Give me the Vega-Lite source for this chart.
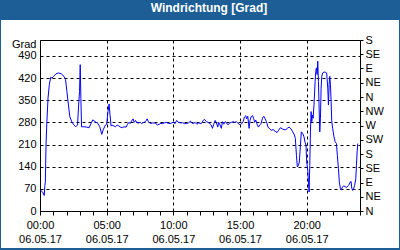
{
  "$schema": "https://vega.github.io/schema/vega-lite/v6.json",
  "autosize": {"type": "none"},
  "width": 398,
  "height": 228,
  "padding": {"left": 1, "right": 1, "top": 20, "bottom": 2},
  "background": "#1c5e95",
  "title": {
    "text": "Windrichtung [Grad]",
    "color": "white",
    "font": "Liberation Sans",
    "fontSize": 12,
    "fontWeight": "bold",
    "anchor": "middle",
    "frame": "group",
    "baseline": "alphabetic",
    "offset": 7,
    "dx": 9,
    "dy": 11
  },
  "config": {
    "view": {"stroke": null, "fill": "white"},
    "axis": {
      "labelFont": "Liberation Sans",
      "labelFontSize": 11,
      "labelColor": "black",
      "titleFont": "Liberation Sans",
      "titleFontSize": 11,
      "titleFontWeight": "normal",
      "titleColor": "black",
      "domainColor": "black",
      "tickColor": "black",
      "gridColor": "black",
      "gridDash": [3, 3],
      "gridWidth": 1
    }
  },
  "data": {
    "values": [
      {"t": "2017-05-06T00:03", "v": 65},
      {"t": "2017-05-06T00:12", "v": 60},
      {"t": "2017-05-06T00:19", "v": 49},
      {"t": "2017-05-06T00:22", "v": 81},
      {"t": "2017-05-06T00:24", "v": 91},
      {"t": "2017-05-06T00:27", "v": 208},
      {"t": "2017-05-06T00:31", "v": 282},
      {"t": "2017-05-06T00:36", "v": 356},
      {"t": "2017-05-06T00:42", "v": 399},
      {"t": "2017-05-06T00:48", "v": 422},
      {"t": "2017-05-06T00:54", "v": 420},
      {"t": "2017-05-06T01:01", "v": 425},
      {"t": "2017-05-06T01:12", "v": 433},
      {"t": "2017-05-06T01:24", "v": 436},
      {"t": "2017-05-06T01:36", "v": 433},
      {"t": "2017-05-06T01:48", "v": 425},
      {"t": "2017-05-06T01:55", "v": 415},
      {"t": "2017-05-06T02:01", "v": 378},
      {"t": "2017-05-06T02:08", "v": 335},
      {"t": "2017-05-06T02:14", "v": 298},
      {"t": "2017-05-06T02:23", "v": 282},
      {"t": "2017-05-06T02:32", "v": 272},
      {"t": "2017-05-06T02:41", "v": 266},
      {"t": "2017-05-06T02:49", "v": 272},
      {"t": "2017-05-06T02:53", "v": 325},
      {"t": "2017-05-06T02:58", "v": 378},
      {"t": "2017-05-06T03:01", "v": 462},
      {"t": "2017-05-06T03:04", "v": 356},
      {"t": "2017-05-06T03:07", "v": 266},
      {"t": "2017-05-06T03:17", "v": 266},
      {"t": "2017-05-06T03:29", "v": 265},
      {"t": "2017-05-06T03:41", "v": 263},
      {"t": "2017-05-06T03:50", "v": 277},
      {"t": "2017-05-06T03:58", "v": 288},
      {"t": "2017-05-06T04:08", "v": 282},
      {"t": "2017-05-06T04:20", "v": 277},
      {"t": "2017-05-06T04:29", "v": 266},
      {"t": "2017-05-06T04:38", "v": 242},
      {"t": "2017-05-06T04:44", "v": 256},
      {"t": "2017-05-06T04:55", "v": 272},
      {"t": "2017-05-06T05:00", "v": 274},
      {"t": "2017-05-06T05:06", "v": 314},
      {"t": "2017-05-06T05:11", "v": 338},
      {"t": "2017-05-06T05:15", "v": 304},
      {"t": "2017-05-06T05:20", "v": 268},
      {"t": "2017-05-06T05:24", "v": 271},
      {"t": "2017-05-06T05:32", "v": 269},
      {"t": "2017-05-06T05:39", "v": 266},
      {"t": "2017-05-06T05:47", "v": 271},
      {"t": "2017-05-06T05:54", "v": 269},
      {"t": "2017-05-06T06:02", "v": 265},
      {"t": "2017-05-06T06:10", "v": 263},
      {"t": "2017-05-06T06:18", "v": 266},
      {"t": "2017-05-06T06:28", "v": 265},
      {"t": "2017-05-06T06:34", "v": 274},
      {"t": "2017-05-06T06:40", "v": 280},
      {"t": "2017-05-06T06:46", "v": 276},
      {"t": "2017-05-06T06:52", "v": 284},
      {"t": "2017-05-06T06:59", "v": 291},
      {"t": "2017-05-06T07:04", "v": 280},
      {"t": "2017-05-06T07:10", "v": 286},
      {"t": "2017-05-06T07:17", "v": 278},
      {"t": "2017-05-06T07:23", "v": 278},
      {"t": "2017-05-06T07:31", "v": 280},
      {"t": "2017-05-06T07:37", "v": 276},
      {"t": "2017-05-06T07:44", "v": 279},
      {"t": "2017-05-06T07:50", "v": 280},
      {"t": "2017-05-06T07:58", "v": 286},
      {"t": "2017-05-06T08:02", "v": 291},
      {"t": "2017-05-06T08:08", "v": 282},
      {"t": "2017-05-06T08:17", "v": 276},
      {"t": "2017-05-06T08:25", "v": 278},
      {"t": "2017-05-06T08:34", "v": 278},
      {"t": "2017-05-06T08:41", "v": 276},
      {"t": "2017-05-06T08:49", "v": 272},
      {"t": "2017-05-06T08:56", "v": 274},
      {"t": "2017-05-06T09:04", "v": 277},
      {"t": "2017-05-06T09:12", "v": 276},
      {"t": "2017-05-06T09:19", "v": 278},
      {"t": "2017-05-06T09:28", "v": 280},
      {"t": "2017-05-06T09:37", "v": 277},
      {"t": "2017-05-06T09:45", "v": 276},
      {"t": "2017-05-06T09:52", "v": 278},
      {"t": "2017-05-06T10:00", "v": 280},
      {"t": "2017-05-06T10:08", "v": 276},
      {"t": "2017-05-06T10:15", "v": 286},
      {"t": "2017-05-06T10:23", "v": 280},
      {"t": "2017-05-06T10:32", "v": 278},
      {"t": "2017-05-06T10:41", "v": 279},
      {"t": "2017-05-06T10:50", "v": 276},
      {"t": "2017-05-06T10:59", "v": 276},
      {"t": "2017-05-06T11:08", "v": 278},
      {"t": "2017-05-06T11:17", "v": 284},
      {"t": "2017-05-06T11:23", "v": 278},
      {"t": "2017-05-06T11:30", "v": 276},
      {"t": "2017-05-06T11:38", "v": 280},
      {"t": "2017-05-06T11:46", "v": 274},
      {"t": "2017-05-06T11:53", "v": 278},
      {"t": "2017-05-06T12:06", "v": 276},
      {"t": "2017-05-06T12:14", "v": 286},
      {"t": "2017-05-06T12:21", "v": 289},
      {"t": "2017-05-06T12:29", "v": 282},
      {"t": "2017-05-06T12:36", "v": 280},
      {"t": "2017-05-06T12:44", "v": 276},
      {"t": "2017-05-06T12:50", "v": 272},
      {"t": "2017-05-06T12:56", "v": 261},
      {"t": "2017-05-06T13:02", "v": 274},
      {"t": "2017-05-06T13:08", "v": 286},
      {"t": "2017-05-06T13:14", "v": 278},
      {"t": "2017-05-06T13:20", "v": 265},
      {"t": "2017-05-06T13:24", "v": 280},
      {"t": "2017-05-06T13:30", "v": 272},
      {"t": "2017-05-06T13:36", "v": 261},
      {"t": "2017-05-06T13:41", "v": 282},
      {"t": "2017-05-06T13:47", "v": 274},
      {"t": "2017-05-06T13:53", "v": 282},
      {"t": "2017-05-06T13:59", "v": 278},
      {"t": "2017-05-06T14:06", "v": 272},
      {"t": "2017-05-06T14:14", "v": 278},
      {"t": "2017-05-06T14:21", "v": 280},
      {"t": "2017-05-06T14:29", "v": 282},
      {"t": "2017-05-06T14:36", "v": 280},
      {"t": "2017-05-06T14:44", "v": 282},
      {"t": "2017-05-06T14:50", "v": 278},
      {"t": "2017-05-06T14:56", "v": 274},
      {"t": "2017-05-06T15:02", "v": 272},
      {"t": "2017-05-06T15:08", "v": 276},
      {"t": "2017-05-06T15:14", "v": 282},
      {"t": "2017-05-06T15:20", "v": 297},
      {"t": "2017-05-06T15:26", "v": 301},
      {"t": "2017-05-06T15:30", "v": 291},
      {"t": "2017-05-06T15:35", "v": 299},
      {"t": "2017-05-06T15:41", "v": 261},
      {"t": "2017-05-06T15:45", "v": 286},
      {"t": "2017-05-06T15:51", "v": 299},
      {"t": "2017-05-06T15:57", "v": 301},
      {"t": "2017-05-06T16:02", "v": 291},
      {"t": "2017-05-06T16:06", "v": 280},
      {"t": "2017-05-06T16:11", "v": 287},
      {"t": "2017-05-06T16:17", "v": 274},
      {"t": "2017-05-06T16:23", "v": 265},
      {"t": "2017-05-06T16:29", "v": 272},
      {"t": "2017-05-06T16:35", "v": 276},
      {"t": "2017-05-06T16:41", "v": 293},
      {"t": "2017-05-06T16:47", "v": 299},
      {"t": "2017-05-06T16:53", "v": 291},
      {"t": "2017-05-06T16:59", "v": 282},
      {"t": "2017-05-06T17:06", "v": 265},
      {"t": "2017-05-06T17:14", "v": 259},
      {"t": "2017-05-06T17:21", "v": 255},
      {"t": "2017-05-06T17:29", "v": 257},
      {"t": "2017-05-06T17:38", "v": 252},
      {"t": "2017-05-06T17:47", "v": 248},
      {"t": "2017-05-06T17:54", "v": 255},
      {"t": "2017-05-06T18:02", "v": 263},
      {"t": "2017-05-06T18:11", "v": 259},
      {"t": "2017-05-06T18:18", "v": 257},
      {"t": "2017-05-06T18:26", "v": 257},
      {"t": "2017-05-06T18:33", "v": 261},
      {"t": "2017-05-06T18:41", "v": 265},
      {"t": "2017-05-06T18:50", "v": 259},
      {"t": "2017-05-06T18:57", "v": 250},
      {"t": "2017-05-06T19:05", "v": 240},
      {"t": "2017-05-06T19:09", "v": 229},
      {"t": "2017-05-06T19:14", "v": 176},
      {"t": "2017-05-06T19:18", "v": 139},
      {"t": "2017-05-06T19:23", "v": 144},
      {"t": "2017-05-06T19:27", "v": 155},
      {"t": "2017-05-06T19:32", "v": 208},
      {"t": "2017-05-06T19:36", "v": 250},
      {"t": "2017-05-06T19:42", "v": 245},
      {"t": "2017-05-06T19:48", "v": 234},
      {"t": "2017-05-06T19:53", "v": 216},
      {"t": "2017-05-06T19:57", "v": 208},
      {"t": "2017-05-06T20:00", "v": 155},
      {"t": "2017-05-06T20:05", "v": 129},
      {"t": "2017-05-06T20:08", "v": 91},
      {"t": "2017-05-06T20:11", "v": 60},
      {"t": "2017-05-06T20:14", "v": 144},
      {"t": "2017-05-06T20:17", "v": 250},
      {"t": "2017-05-06T20:20", "v": 314},
      {"t": "2017-05-06T20:23", "v": 282},
      {"t": "2017-05-06T20:26", "v": 303},
      {"t": "2017-05-06T20:29", "v": 293},
      {"t": "2017-05-06T20:33", "v": 335},
      {"t": "2017-05-06T20:38", "v": 409},
      {"t": "2017-05-06T20:41", "v": 441},
      {"t": "2017-05-06T20:44", "v": 452},
      {"t": "2017-05-06T20:47", "v": 431},
      {"t": "2017-05-06T20:50", "v": 473},
      {"t": "2017-05-06T20:53", "v": 409},
      {"t": "2017-05-06T20:56", "v": 325},
      {"t": "2017-05-06T20:59", "v": 250},
      {"t": "2017-05-06T21:02", "v": 293},
      {"t": "2017-05-06T21:05", "v": 388},
      {"t": "2017-05-06T21:08", "v": 425},
      {"t": "2017-05-06T21:12", "v": 436},
      {"t": "2017-05-06T21:18", "v": 439},
      {"t": "2017-05-06T21:24", "v": 438},
      {"t": "2017-05-06T21:30", "v": 436},
      {"t": "2017-05-06T21:35", "v": 388},
      {"t": "2017-05-06T21:38", "v": 335},
      {"t": "2017-05-06T21:41", "v": 399},
      {"t": "2017-05-06T21:44", "v": 425},
      {"t": "2017-05-06T21:47", "v": 399},
      {"t": "2017-05-06T21:50", "v": 346},
      {"t": "2017-05-06T21:53", "v": 282},
      {"t": "2017-05-06T21:57", "v": 261},
      {"t": "2017-05-06T22:03", "v": 234},
      {"t": "2017-05-06T22:08", "v": 219},
      {"t": "2017-05-06T22:14", "v": 213},
      {"t": "2017-05-06T22:18", "v": 176},
      {"t": "2017-05-06T22:23", "v": 134},
      {"t": "2017-05-06T22:27", "v": 91},
      {"t": "2017-05-06T22:32", "v": 70},
      {"t": "2017-05-06T22:36", "v": 66},
      {"t": "2017-05-06T22:41", "v": 76},
      {"t": "2017-05-06T22:47", "v": 79},
      {"t": "2017-05-06T22:53", "v": 77},
      {"t": "2017-05-06T22:59", "v": 74},
      {"t": "2017-05-06T23:05", "v": 79},
      {"t": "2017-05-06T23:11", "v": 83},
      {"t": "2017-05-06T23:15", "v": 91},
      {"t": "2017-05-06T23:20", "v": 93},
      {"t": "2017-05-06T23:23", "v": 72},
      {"t": "2017-05-06T23:27", "v": 65},
      {"t": "2017-05-06T23:32", "v": 72},
      {"t": "2017-05-06T23:36", "v": 81},
      {"t": "2017-05-06T23:41", "v": 102},
      {"t": "2017-05-06T23:44", "v": 144},
      {"t": "2017-05-06T23:47", "v": 187},
      {"t": "2017-05-06T23:50", "v": 213}
    ]
  },
  "layer": [
    {
      "mark": {"type": "line", "color": "#0000ff", "strokeWidth": 1},
      "encoding": {
        "x": {
          "field": "t",
          "type": "temporal",
          "scale": {
            "domain": [
              {"year": 2017, "month": 5, "date": 6, "hours": 0},
              {"year": 2017, "month": 5, "date": 7, "hours": 0}
            ],
            "range": [39, 359]
          },
          "axis": {
            "orient": "bottom",
            "offset": -37,
            "title": null,
            "grid": false,
            "tickCount": 24,
            "tickSize": 4,
            "labelPadding": 4,
            "labelFlush": false,
            "labelOverlap": false,
            "labelLineHeight": 14,
            "labelBaseline": "top",
            "labelExpr": "hours(datum.value) % 5 == 0 && date(datum.value) == 6 ? [timeFormat(datum.value, '%H:%M'), timeFormat(datum.value, '%d.%m.%y')] : ''"
          }
        },
        "y": {
          "field": "v",
          "type": "quantitative",
          "scale": {"domain": [0, 540], "range": [191, 20], "nice": false, "zero": false},
          "axis": {
            "orient": "left",
            "offset": -39,
            "values": [0, 70, 140, 210, 280, 350, 420, 490],
            "ticks": false,
            "labelPadding": 4,
            "grid": true,
            "gridOpacity": {"condition": {"test": "datum.value > 0", "value": 1}, "value": 0},
            "title": "Grad",
            "titleAngle": 0,
            "titleAlign": "right",
            "titleBaseline": "alphabetic",
            "titleX": -4,
            "titleY": 27
          }
        }
      }
    },
    {
      "mark": {"type": "line", "strokeOpacity": 0},
      "encoding": {
        "x": {
          "field": "t",
          "type": "temporal",
          "axis": {
            "orient": "top",
            "offset": -20,
            "title": null,
            "labels": false,
            "ticks": false,
            "grid": true,
            "tickCount": 24,
            "gridOpacity": {"condition": {"test": "hours(datum.value) % 5 == 0", "value": 1}, "value": 0}
          }
        },
        "y": {
          "field": "v",
          "type": "quantitative",
          "axis": {
            "orient": "right",
            "offset": -39,
            "title": null,
            "grid": false,
            "values": [0, 45, 90, 135, 180, 225, 270, 315, 360, 405, 450, 495, 540],
            "tickSize": 3,
            "labelPadding": 2,
            "labelOverlap": false,
            "labelFlush": false,
            "labelExpr": "datum.value % 360 == 0 ? 'N' : datum.value % 360 == 45 ? 'NE' : datum.value % 360 == 90 ? 'E' : datum.value % 360 == 135 ? 'SE' : datum.value % 360 == 180 ? 'S' : datum.value % 360 == 225 ? 'SW' : datum.value % 360 == 270 ? 'W' : 'NW'"
          }
        }
      }
    }
  ],
  "resolve": {"axis": {"x": "independent", "y": "independent"}}
}
